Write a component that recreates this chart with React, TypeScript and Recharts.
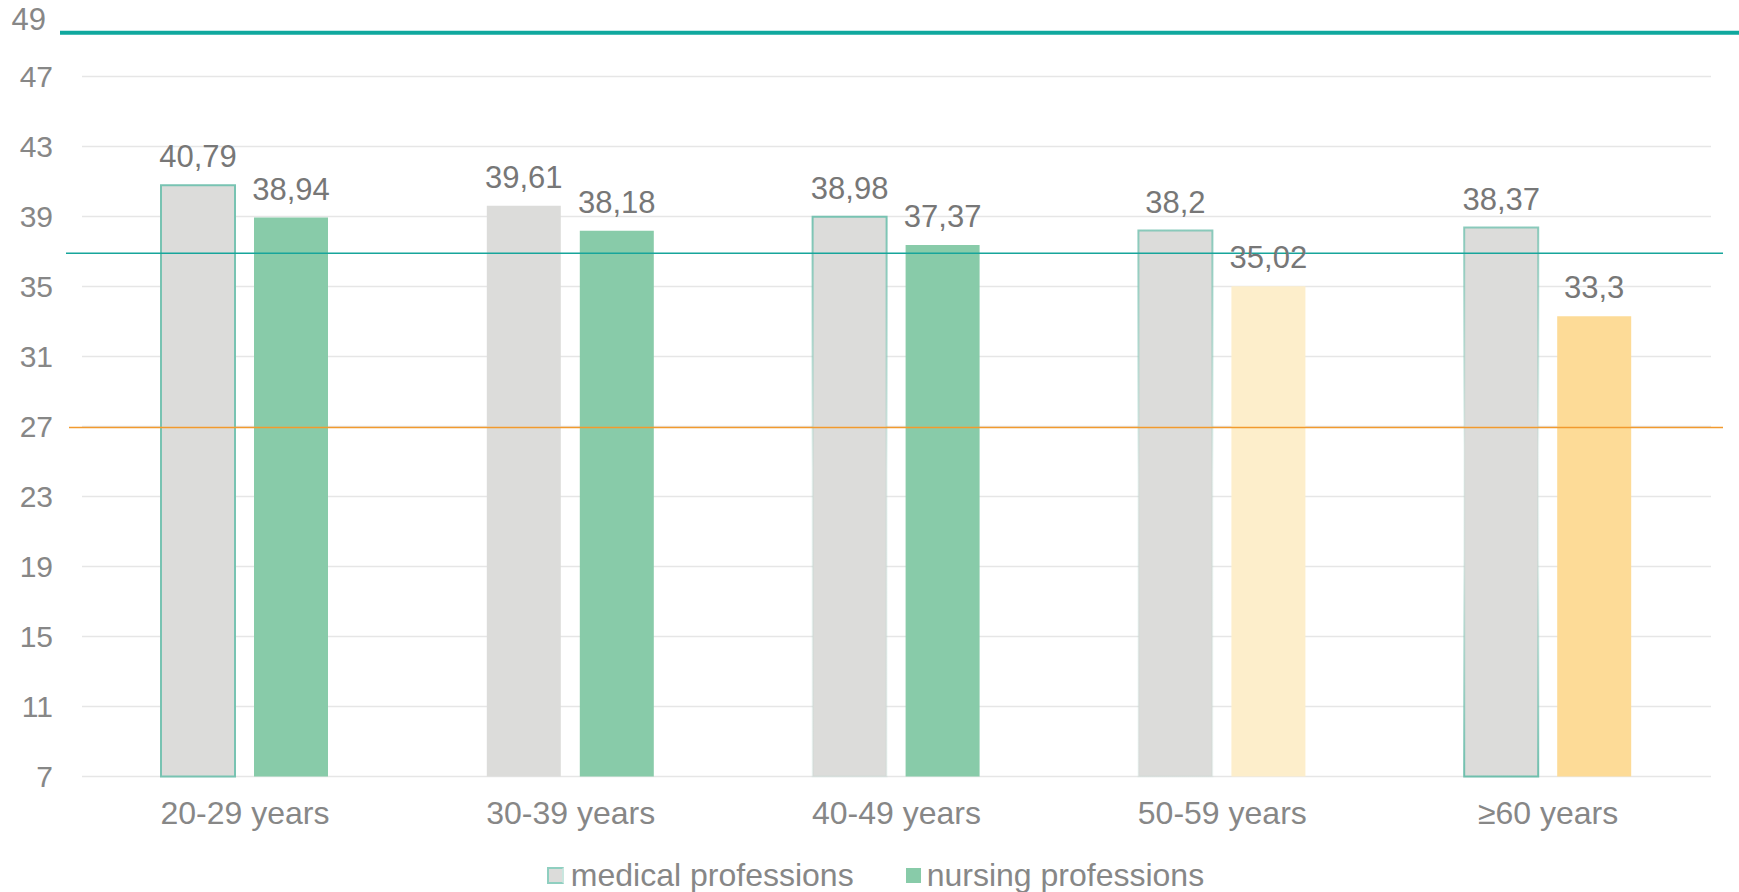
import { BarChart, Bar, XAxis, YAxis, CartesianGrid, ReferenceLine, LabelList, Legend, Cell } from 'recharts';

const categories = ['20-29 years', '30-39 years', '40-49 years', '50-59 years', '≥60 years'];
const medical = [40.79, 39.61, 38.98, 38.2, 38.37];
const nursing = [38.94, 38.18, 37.37, 35.02, 33.3];
const yTicks = [7, 11, 15, 19, 23, 27, 31, 35, 39, 43, 47];
const topLineValue = 49.5;
const tealLineValue = 36.9;
const orangeLineValue = 26.95;

const data = categories.map((name, i) => ({ name, medical: medical[i], nursing: nursing[i] }));

const FONT = '"Liberation Sans", Arial, sans-serif';
const GRAY_TEXT = '#878787';
const nursingColors = ['#88cba9', '#88cba9', '#88cba9', '#fdeecb', '#fddb97'];
const medicalStrokes = ['#78c3b2', 'none', 'url(#ms2)', 'url(#ms3)', 'url(#ms4)'];

const fmt = (v: any) => String(v).replace('.', ',');

function LegendContent() {
  return (
    <div style={{ height: 34, display: 'flex', alignItems: 'center', justifyContent: 'center', paddingLeft: 40, fontFamily: FONT, fontSize: 32, color: GRAY_TEXT }}>
      <span style={{ display: 'inline-block', width: 13, height: 13, background: '#dcdcda', border: '2px solid #8fcfc0', borderRightColor: '#c9e6df', marginRight: 7 }} />
      <span>medical professions</span>
      <span style={{ display: 'inline-block', width: 15, height: 15, background: '#88cba9', marginLeft: 52, marginRight: 6 }} />
      <span>nursing professions</span>
    </div>
  );
}

// plot area runs 82..1711; reference lines reach further out than the grid
const PLOT_LEFT = 82;
const PLOT_RIGHT = 1711;
const extendedLine = (left: number, right: number, color: string, width: number) => (p: any) => (
  <line x1={PLOT_LEFT - left} y1={p.y1} x2={PLOT_RIGHT + right} y2={p.y2} stroke={color} strokeWidth={width} />
);

export default function App() {
  return (
    <div style={{ position: 'absolute', left: 0, top: 0, background: '#fff' }}>
      <BarChart width={1739} height={892} data={data} barSize={74} barGap={19} margin={{ top: 32.75, right: 28, bottom: 0, left: 0 }}>
        <defs>
          <linearGradient id="ms2" x1="0" y1="0" x2="0" y2="1">
            <stop offset="0%" stopColor="#78c3b2" />
            <stop offset="45%" stopColor="#78c3b2" stopOpacity={0.15} />
            <stop offset="100%" stopColor="#78c3b2" stopOpacity={0.1} />
          </linearGradient>
          <linearGradient id="ms3" x1="0" y1="0" x2="0" y2="1">
            <stop offset="0%" stopColor="#78c3b2" stopOpacity={0.85} />
            <stop offset="45%" stopColor="#78c3b2" stopOpacity={0.12} />
            <stop offset="100%" stopColor="#78c3b2" stopOpacity={0.08} />
          </linearGradient>
          <linearGradient id="ms4" x1="0" y1="0" x2="0" y2="1">
            <stop offset="0%" stopColor="#78c3b2" stopOpacity={0.85} />
            <stop offset="40%" stopColor="#78c3b2" stopOpacity={0.1} />
            <stop offset="60%" stopColor="#78c3b2" stopOpacity={0.15} />
            <stop offset="100%" stopColor="#6fbfad" stopOpacity={1} />
          </linearGradient>
        </defs>
        <CartesianGrid vertical={false} stroke="#e6e6e6" strokeWidth={1.5} syncWithTicks />
        <XAxis
          dataKey="name"
          axisLine={false}
          tickLine={false}
          tickSize={0}
          tickMargin={25}
          height={81.5}
          tick={{ fontSize: 32, fill: GRAY_TEXT, fontFamily: FONT }}
        />
        <YAxis
          domain={[7, topLineValue]}
          ticks={yTicks}
          axisLine={false}
          tickLine={false}
          tickSize={0}
          tickMargin={29}
          width={82}
          tick={{ fontSize: 30, fill: GRAY_TEXT, fontFamily: FONT }}
        />
        <Legend verticalAlign="bottom" content={<LegendContent />} />
        <Bar dataKey="medical" name="medical professions" fill="#dcdcda" strokeWidth={2} isAnimationActive={false}>
          {data.map((_, i) => (
            <Cell key={`m-${i}`} fill="#dcdcda" stroke={medicalStrokes[i]} />
          ))}
          <LabelList dataKey="medical" position="top" offset={18} formatter={fmt} fontSize={31} fill="#777777" fontFamily={FONT} />
        </Bar>
        <Bar dataKey="nursing" name="nursing professions" fill="#88cba9" isAnimationActive={false}>
          {data.map((_, i) => (
            <Cell key={`n-${i}`} fill={nursingColors[i]} />
          ))}
          <LabelList dataKey="nursing" position="top" offset={18} formatter={fmt} fontSize={31} fill="#777777" fontFamily={FONT} />
        </Bar>
        <ReferenceLine y={orangeLineValue} shape={extendedLine(13, 12, '#f29a2e', 1.5)} />
        <ReferenceLine y={tealLineValue} shape={extendedLine(16, 12, '#17a59b', 1.5)} />
        <ReferenceLine
          y={topLineValue}
          shape={extendedLine(22, 28, '#0fa89e', 4)}
          label={(p: any) => (
            <text x={46} y={p.viewBox.y - 13} textAnchor="end" dominantBaseline="central" fontSize={31} fill={GRAY_TEXT} fontFamily={FONT}>
              49
            </text>
          )}
        />
      </BarChart>
    </div>
  );
}
